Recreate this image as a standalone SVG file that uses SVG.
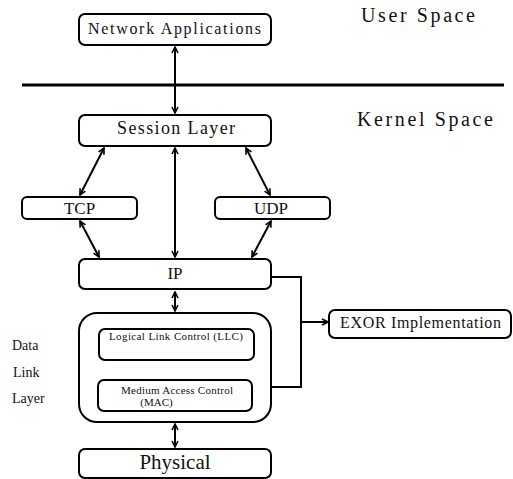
<svg xmlns="http://www.w3.org/2000/svg" width="513" height="479" viewBox="0 0 513 479" font-family="Liberation Serif, DejaVu Serif, serif">
<style>
.box{fill:#fff;stroke:#000;stroke-width:2}
.t{fill:#111}
.c{stroke:#000;stroke-width:2;fill:none}
</style>
<defs>
<marker id="ah" viewBox="0 0 8 8" refX="7" refY="4" markerWidth="8" markerHeight="8" markerUnits="userSpaceOnUse" orient="auto-start-reverse">
<path d="M1,1 L7,4 L1,7" fill="none" stroke="#000" stroke-width="1.6"/>
</marker>
</defs>
<rect width="513" height="479" fill="#fff"/>
<text class="t" x="361" y="22" font-size="20" textLength="114">User Space</text>
<text class="t" x="357" y="126" font-size="20" textLength="136">Kernel Space</text>
<line x1="22" y1="85" x2="504" y2="85" stroke="#000" stroke-width="3"/>
<g id="connectors">
<line class="c" x1="175" y1="47" x2="175" y2="113" marker-start="url(#ah)" marker-end="url(#ah)"/>
<line class="c" x1="104" y1="148" x2="80" y2="195" marker-start="url(#ah)" marker-end="url(#ah)"/>
<line class="c" x1="246" y1="148" x2="270" y2="195" marker-start="url(#ah)" marker-end="url(#ah)"/>
<line class="c" x1="175" y1="148" x2="175" y2="257" marker-end="url(#ah)" marker-start="url(#ah)"/>
<line class="c" x1="80" y1="221" x2="99" y2="257" marker-start="url(#ah)" marker-end="url(#ah)"/>
<line class="c" x1="271" y1="221" x2="252" y2="257" marker-start="url(#ah)" marker-end="url(#ah)"/>
<line class="c" x1="175" y1="292" x2="175" y2="311" marker-start="url(#ah)" marker-end="url(#ah)"/>
<line class="c" x1="175" y1="424" x2="175" y2="447" marker-start="url(#ah)" marker-end="url(#ah)"/>
<polyline class="c" points="271,277 301,277 301,387 271,387"/>
<line class="c" x1="301" y1="322" x2="328" y2="322" marker-end="url(#ah)"/>
</g>
<g id="network-applications">
<rect class="box" x="79" y="14" width="192" height="31" rx="6"/>
<text class="t" x="88" y="34" font-size="16" textLength="173">Network Applications</text>
</g>
<g id="session-layer">
<rect class="box" x="79" y="115" width="192" height="31" rx="6"/>
<text class="t" x="117" y="134" font-size="18" textLength="118">Session Layer</text>
</g>
<g id="tcp">
<rect class="box" x="22" y="197" width="115" height="22" rx="5"/>
<text class="t" x="79.5" y="214" font-size="17" text-anchor="middle">TCP</text>
</g>
<g id="udp">
<rect class="box" x="215" y="197" width="115" height="22" rx="5"/>
<text class="t" x="271" y="214" font-size="17" text-anchor="middle">UDP</text>
</g>
<g id="ip">
<rect class="box" x="79" y="259" width="192" height="30" rx="6"/>
<text class="t" x="175" y="279" font-size="17" text-anchor="middle">IP</text>
</g>
<g id="data-link-layer">
<rect class="box" x="79" y="313" width="192" height="109" rx="18"/>
<text class="t" x="12" y="350" font-size="14">Data</text>
<text class="t" x="13" y="377" font-size="14">Link</text>
<text class="t" x="12" y="403" font-size="14">Layer</text>
</g>
<g id="llc">
<rect class="box" x="99" y="329" width="155" height="31" rx="6"/>
<text class="t" x="109" y="340" font-size="11" textLength="134">Logical Link Control (LLC)</text>
</g>
<g id="mac">
<rect class="box" x="98" y="380" width="154" height="31" rx="6"/>
<text class="t" x="121" y="394" font-size="11" textLength="112">Medium Access Control</text>
<text class="t" x="156.5" y="406" font-size="11" text-anchor="middle">(MAC)</text>
</g>
<g id="exor">
<rect class="box" x="329" y="310" width="182" height="28" rx="6"/>
<text class="t" x="340" y="328" font-size="16" textLength="161">EXOR Implementation</text>
</g>
<g id="physical">
<rect class="box" x="79" y="449" width="192" height="29" rx="6"/>
<text class="t" x="175" y="469" font-size="21" text-anchor="middle">Physical</text>
</g>
</svg>
